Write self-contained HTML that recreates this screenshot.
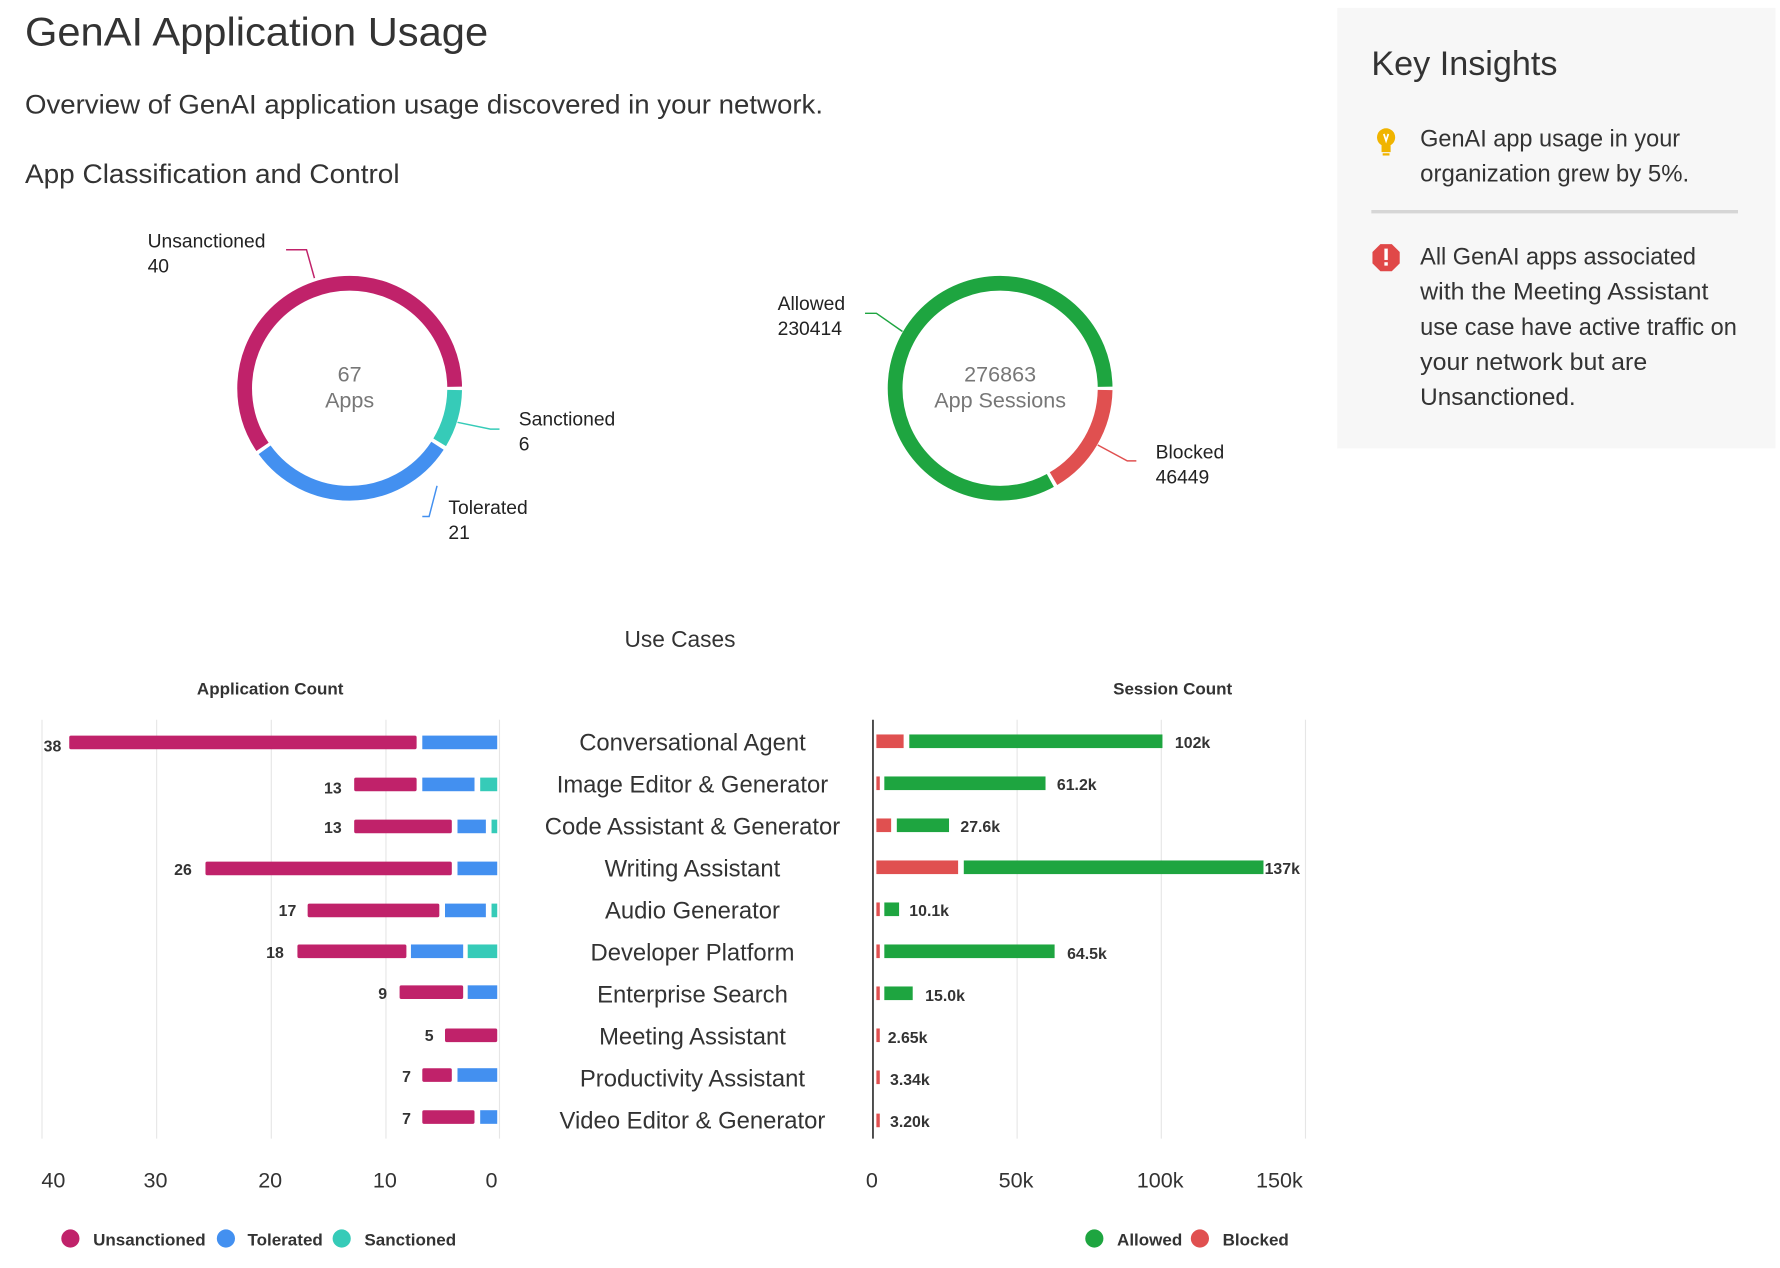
<!DOCTYPE html>
<html><head><meta charset="utf-8"><style>
html,body{margin:0;padding:0;background:#fff;}
svg{display:block;font-family:"Liberation Sans",sans-serif;}
</style></head><body>
<svg width="1780" height="1268" viewBox="0 0 1568 1117" preserveAspectRatio="none" xmlns="http://www.w3.org/2000/svg">
<rect x="1178" y="7" width="386" height="388" fill="#f7f7f7"/>
<g fill="#333">
<text x="22" y="40" font-size="35" textLength="408" lengthAdjust="spacingAndGlyphs">GenAI Application Usage</text>
<text x="22" y="100" font-size="24" textLength="703" lengthAdjust="spacingAndGlyphs">Overview of GenAI application usage discovered in your network.</text>
<text x="22" y="161" font-size="24" textLength="330" lengthAdjust="spacingAndGlyphs">App Classification and Control</text>
<text x="1208" y="66" font-size="30" textLength="164" lengthAdjust="spacingAndGlyphs">Key Insights</text>
<g font-size="21">
<text x="1251" y="129" textLength="229" lengthAdjust="spacingAndGlyphs">GenAI app usage in your</text>
<text x="1251" y="160" textLength="237" lengthAdjust="spacingAndGlyphs">organization grew by 5%.</text>
<text x="1251" y="233" textLength="243" lengthAdjust="spacingAndGlyphs">All GenAI apps associated</text>
<text x="1251" y="264" textLength="254" lengthAdjust="spacingAndGlyphs">with the Meeting Assistant</text>
<text x="1251" y="295" textLength="279" lengthAdjust="spacingAndGlyphs">use case have active traffic on</text>
<text x="1251" y="326" textLength="200" lengthAdjust="spacingAndGlyphs">your network but are</text>
<text x="1251" y="357" textLength="137" lengthAdjust="spacingAndGlyphs">Unsanctioned.</text>
</g>
</g>
<rect x="1208" y="185" width="323" height="3" fill="#d6d6d6"/>
<!-- bulb icon -->
<circle cx="1221" cy="121" r="8" fill="#f0b400"/>
<rect x="1217" y="128" width="8" height="6" fill="#f0b400"/>
<rect x="1218" y="135" width="6" height="2" fill="#f0b400"/>
<path d="M1219 118 L1221 124 L1223 118" stroke="#fff" stroke-width="1.5" fill="none"/>
<!-- alert icon -->
<polygon points="1216,215 1226,215 1233,222 1233,232 1226,239 1216,239 1209,232 1209,222" fill="#e04848"/>
<rect x="1219.5" y="219" width="3" height="10" fill="#fff"/>
<rect x="1219.5" y="231" width="3" height="3" fill="#fff"/>

<!-- donut 1 -->
<g fill="none" stroke-width="13">
<circle cx="308" cy="342" r="92.5" stroke="#36cbb8" stroke-dasharray="48.4 600" stroke-dashoffset="-1.6"/>
<circle cx="308" cy="342" r="92.5" stroke="#4390f0" stroke-dasharray="178.9 600" stroke-dashoffset="-53.6"/>
<circle cx="308" cy="342" r="92.5" stroke="#c0226a" stroke-dasharray="343.9 600" stroke-dashoffset="-235.7"/>
<circle cx="881" cy="342" r="92.5" stroke="#e05050" stroke-dasharray="94.3 600" stroke-dashoffset="-1.6"/>
<circle cx="881" cy="342" r="92.5" stroke="#1ea540" stroke-dasharray="480.5 600" stroke-dashoffset="-99.1"/>
</g>
<g fill="none" stroke-width="1.3">
<polyline points="252,220 270,220 277,245" stroke="#c0226a"/>
<polyline points="403,372 432,378 440,378" stroke="#36cbb8"/>
<polyline points="385,428 378,455 372,455" stroke="#4390f0"/>
<polyline points="762,276 772,276 795,292" stroke="#1ea540"/>
<polyline points="967,392 993,406 1001,406" stroke="#e05050"/>
</g>
<g font-size="17" fill="#222">
<text x="130" y="218">Unsanctioned</text><text x="130" y="240">40</text>
<text x="457" y="375">Sanctioned</text><text x="457" y="397">6</text>
<text x="395" y="453">Tolerated</text><text x="395" y="475">21</text>
<text x="685" y="273">Allowed</text><text x="685" y="295">230414</text>
<text x="1018" y="404">Blocked</text><text x="1018" y="426">46449</text>
</g>
<g font-size="19" fill="#777" text-anchor="middle">
<text x="308" y="336">67</text><text x="308" y="359">Apps</text>
<text x="881" y="336">276863</text><text x="881" y="359">App Sessions</text>
</g>

<text x="599" y="570" font-size="20" fill="#333" text-anchor="middle">Use Cases</text>
<g font-size="15" font-weight="bold" fill="#333" text-anchor="middle">
<text x="238" y="612">Application Count</text>
<text x="1033" y="612">Session Count</text>
</g>
<!-- grid -->
<g stroke="#e6e6e6" stroke-width="1">
<line x1="37" y1="634" x2="37" y2="1003"/><line x1="138" y1="634" x2="138" y2="1003"/>
<line x1="239" y1="634" x2="239" y2="1003"/><line x1="340" y1="634" x2="340" y2="1003"/>
<line x1="440" y1="634" x2="440" y2="1003"/>
<line x1="896" y1="634" x2="896" y2="1003"/><line x1="1023" y1="634" x2="1023" y2="1003"/>
<line x1="1150" y1="634" x2="1150" y2="1003"/>
</g>
<line x1="769" y1="634" x2="769" y2="1003" stroke="#333" stroke-width="1.5"/>
<g font-size="19" fill="#333" text-anchor="middle">
<text x="47" y="1046">40</text><text x="137" y="1046">30</text><text x="238" y="1046">20</text><text x="339" y="1046">10</text><text x="433" y="1046">0</text>
<text x="768" y="1046">0</text><text x="895" y="1046">50k</text><text x="1022" y="1046">100k</text><text x="1127" y="1046">150k</text>
</g>
<!-- categories -->
<g font-size="21" fill="#333" text-anchor="middle">
<text x="610" y="661">Conversational Agent</text>
<text x="610" y="698">Image Editor &amp; Generator</text>
<text x="610" y="735">Code Assistant &amp; Generator</text>
<text x="610" y="772">Writing Assistant</text>
<text x="610" y="809">Audio Generator</text>
<text x="610" y="846">Developer Platform</text>
<text x="610" y="883">Enterprise Search</text>
<text x="610" y="920">Meeting Assistant</text>
<text x="610" y="957">Productivity Assistant</text>
<text x="610" y="994">Video Editor &amp; Generator</text>
</g>
<!-- left bars -->
<g>
<g fill="#c0226a">
<rect x="61" y="648" width="306" height="12" rx="1.5"/>
<rect x="312" y="685" width="55" height="12" rx="1.5"/>
<rect x="312" y="722" width="86" height="12" rx="1.5"/>
<rect x="181" y="759" width="217" height="12" rx="1.5"/>
<rect x="271" y="796" width="116" height="12" rx="1.5"/>
<rect x="262" y="832" width="96" height="12" rx="1.5"/>
<rect x="352" y="868" width="56" height="12" rx="1.5"/>
<rect x="392" y="906" width="46" height="12" rx="1.5"/>
<rect x="372" y="941" width="26" height="12" rx="1.5"/>
<rect x="372" y="978" width="46" height="12" rx="1.5"/>
</g>
<g fill="#4390f0">
<rect x="372" y="648" width="66" height="12"/>
<rect x="372" y="685" width="46" height="12"/>
<rect x="403" y="722" width="25" height="12"/>
<rect x="403" y="759" width="35" height="12"/>
<rect x="392" y="796" width="36" height="12"/>
<rect x="362" y="832" width="46" height="12"/>
<rect x="412" y="868" width="26" height="12"/>
<rect x="403" y="941" width="35" height="12"/>
<rect x="423" y="978" width="15" height="12"/>
</g>
<g fill="#36cbb8">
<rect x="423" y="685" width="15" height="12"/>
<rect x="433" y="722" width="5" height="12"/>
<rect x="433" y="796" width="5" height="12"/>
<rect x="412" y="832" width="26" height="12"/>
</g>
</g>
<g font-size="14" font-weight="bold" fill="#333" text-anchor="end">
<text x="54" y="662">38</text><text x="301" y="699">13</text><text x="301" y="734">13</text>
<text x="169" y="771">26</text><text x="261" y="807">17</text><text x="250" y="844">18</text>
<text x="341" y="880">9</text><text x="382" y="917">5</text><text x="362" y="953">7</text><text x="362" y="990">7</text>
</g>
<!-- right bars -->
<g fill="#e05050">
<rect x="772" y="647" width="24" height="12"/>
<rect x="772" y="684" width="3" height="12"/>
<rect x="772" y="721" width="13" height="12"/>
<rect x="772" y="758" width="72" height="12"/>
<rect x="772" y="795" width="3" height="12"/>
<rect x="772" y="832" width="3" height="12"/>
<rect x="772" y="869" width="3" height="12"/>
<rect x="772" y="906" width="3" height="12"/>
<rect x="772" y="943" width="3" height="12"/>
<rect x="772" y="981" width="3" height="12"/>
</g>
<g fill="#1ea540">
<rect x="801" y="647" width="223" height="12"/>
<rect x="779" y="684" width="142" height="12"/>
<rect x="790" y="721" width="46" height="12"/>
<rect x="849" y="758" width="264" height="12"/>
<rect x="779" y="795" width="13" height="12"/>
<rect x="779" y="832" width="150" height="12"/>
<rect x="779" y="869" width="25" height="12"/>
</g>
<g font-size="14" font-weight="bold" fill="#333">
<text x="1035" y="659">102k</text><text x="931" y="696">61.2k</text><text x="846" y="733">27.6k</text>
<text x="1114" y="770">137k</text><text x="801" y="807">10.1k</text><text x="940" y="845">64.5k</text>
<text x="815" y="882">15.0k</text><text x="782" y="919">2.65k</text><text x="784" y="956">3.34k</text><text x="784" y="993">3.20k</text>
</g>
<!-- legends -->
<g font-size="15" font-weight="bold" fill="#333">
<circle cx="62" cy="1091" r="8" fill="#c0226a"/><text x="82" y="1097">Unsanctioned</text>
<circle cx="199" cy="1091" r="8" fill="#4390f0"/><text x="218" y="1097">Tolerated</text>
<circle cx="301" cy="1091" r="8" fill="#36cbb8"/><text x="321" y="1097">Sanctioned</text>
<circle cx="964" cy="1091" r="8" fill="#1ea540"/><text x="984" y="1097">Allowed</text>
<circle cx="1057" cy="1091" r="8" fill="#e05050"/><text x="1077" y="1097">Blocked</text>
</g>
</svg>
</body></html>
